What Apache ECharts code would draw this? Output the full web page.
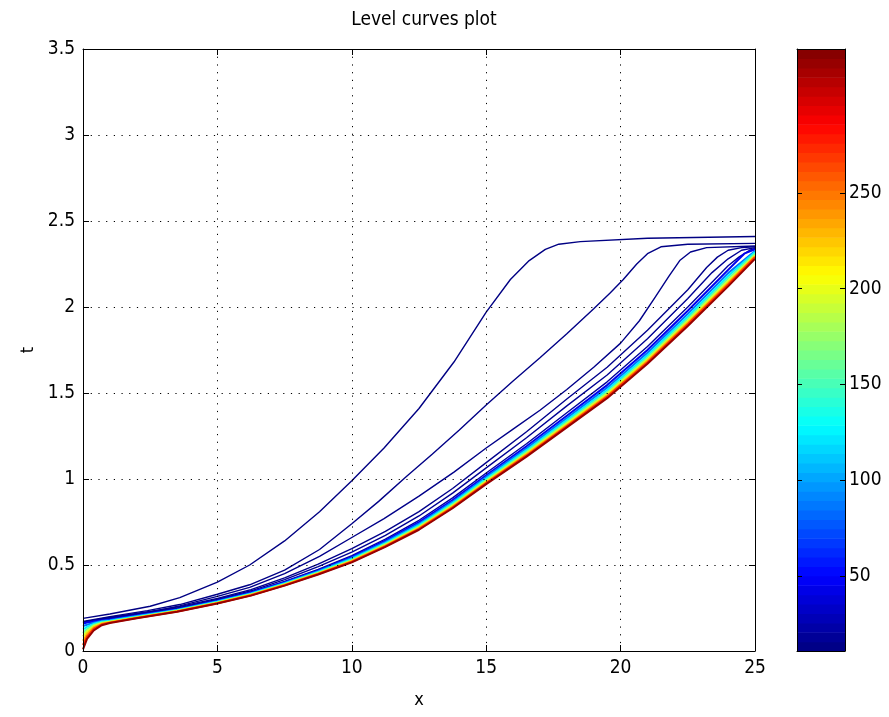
<!DOCTYPE html>
<html><head><meta charset="utf-8">
<script src="https://cdn.jsdelivr.net/npm/echarts@6/dist/echarts.min.js"></script>
<style>html,body{margin:0;padding:0;background:#fff}#c{width:889px;height:717px}</style>
</head><body><div id="c"></div>
<script>
// ---------- data ----------
const titleText = 'Level curves plot';
const xTicks = [0, 5, 10, 15, 20, 25];
const tTicks = [0, 0.5, 1, 1.5, 2, 2.5, 3, 3.5];
const colorbarTicks = [50, 100, 150, 200, 250];
const colorRange = [11, 325];
const levels = [12, 13, 14, 15, 17, 20, 45, 85, 125, 160, 195, 230, 270, 318];

const c1 = [[0,0.19],[1,0.215],[2.5,0.26],[3.6,0.31],[5,0.40],[6.2,0.50],[7.5,0.64],[8.8,0.81],[10,0.99],[11.2,1.18],[12.5,1.41],[13.8,1.68],[15,1.97],[15.9,2.16],[16.6,2.27],[17.2,2.335],[17.7,2.365],[18.5,2.38],[21,2.40],[25,2.41]];
const c2 = [[0,0.172],[1,0.2],[2.4,0.235],[3.6,0.27],[5,0.33],[6.2,0.385],[7.5,0.47],[8.8,0.59],[10,0.74],[11,0.87],[12,1.01],[13,1.145],[14,1.285],[15,1.43],[16,1.57],[17,1.705],[18,1.845],[19,1.99],[19.6,2.08],[20.1,2.16],[20.6,2.25],[21,2.31],[21.5,2.35],[22.5,2.365],[25,2.37]];
const c3 = [[0,0.168],[1,0.196],[2.5,0.227],[3.6,0.262],[5,0.318],[6.2,0.37],[7.5,0.45],[8.8,0.55],[10,0.66],[11.2,0.77],[12.5,0.90],[13.8,1.04],[15,1.18],[16,1.29],[17,1.40],[18,1.52],[19,1.65],[20,1.79],[20.7,1.92],[21.3,2.06],[21.8,2.18],[22.2,2.27],[22.6,2.32],[23.2,2.345],[25,2.355]];
const c4 = [[0,0.167],[1,0.194],[2,0.218],[3.5,0.255],[5,0.305],[6.25,0.357],[7.5,0.425],[8.75,0.505],[10,0.595],[11.25,0.695],[12.5,0.81],[13.75,0.945],[15,1.095],[16.5,1.275],[18,1.465],[19.5,1.65],[21,1.865],[22.5,2.1],[23.2,2.23],[23.6,2.29],[24,2.33],[24.5,2.345],[25,2.35]];
const c5 = [[0,0.165],[1,0.191],[2,0.214],[3.5,0.25],[5,0.30],[6.25,0.35],[7.5,0.415],[8.75,0.49],[10,0.575],[11.25,0.672],[12.5,0.785],[13.75,0.918],[15,1.065],[16.5,1.24],[18,1.425],[19.5,1.605],[21,1.815],[22.5,2.05],[23.4,2.2],[24,2.28],[24.5,2.33],[25,2.345]];
const c6 = [[0,0.163],[1,0.188],[2,0.21],[3.5,0.246],[5,0.296],[6.25,0.344],[7.5,0.405],[8.75,0.475],[10,0.555],[11.25,0.65],[12.5,0.76],[13.75,0.89],[15,1.035],[16.5,1.205],[18,1.385],[19.5,1.565],[21,1.77],[22.5,2.0],[24,2.24],[24.4,2.29],[24.8,2.33],[25,2.34]];
const b1 = [[0,0.16],[0.15,0.165],[0.4,0.172],[0.7,0.178],[1,0.183],[2,0.206],[3.5,0.242],[5,0.292],[6.25,0.34],[7.5,0.40],[8.75,0.469],[10,0.547],[11.25,0.641],[12.5,0.749],[13.75,0.878],[15,1.022],[16.5,1.19],[18,1.368],[19.5,1.546],[21,1.75],[22.5,1.978],[24,2.216],[24.6,2.31],[25,2.335]];
const b2 = [[0,0.145],[0.15,0.153],[0.4,0.165],[0.7,0.174],[1,0.179],[2,0.203],[3.5,0.24],[5,0.289],[6.25,0.336],[7.5,0.396],[8.75,0.464],[10,0.541],[11.25,0.634],[12.5,0.74],[13.75,0.868],[15,1.012],[16.5,1.178],[18,1.354],[19.5,1.531],[21,1.734],[22.5,1.96],[24,2.197],[25,2.325]];
const b3 = [[0,0.125],[0.15,0.14],[0.4,0.158],[0.7,0.17],[1,0.1755],[2,0.2],[3.5,0.237],[5,0.286],[6.25,0.333],[7.5,0.3925],[8.75,0.46],[10,0.535],[11.25,0.6275],[12.5,0.7325],[13.75,0.86],[15,1.0025],[16.5,1.1675],[18,1.3425],[19.5,1.5175],[21,1.72],[22.5,1.945],[24,2.18],[25,2.32]];
const b4 = [[0,0.105],[0.15,0.128],[0.4,0.152],[0.7,0.166],[1,0.172],[2,0.197],[3.5,0.235],[5,0.283],[6.25,0.33],[7.5,0.389],[8.75,0.456],[10,0.53],[11.25,0.622],[12.5,0.725],[13.75,0.852],[15,0.994],[16.5,1.158],[18,1.331],[19.5,1.505],[21,1.707],[22.5,1.931],[24,2.165],[25,2.31]];
const b5 = [[0,0.085],[0.15,0.115],[0.4,0.145],[0.7,0.162],[1,0.1695],[2,0.195],[3.5,0.233],[5,0.281],[6.25,0.328],[7.5,0.3865],[8.75,0.453],[10,0.525],[11.25,0.617],[12.5,0.719],[13.75,0.846],[15,0.987],[16.5,1.15],[18,1.322],[19.5,1.495],[21,1.696],[22.5,1.919],[24,2.151],[25,2.30]];
const b6 = [[0,0.06],[0.15,0.10],[0.4,0.138],[0.7,0.158],[1,0.167],[2,0.193],[3.5,0.231],[5,0.279],[6.25,0.326],[7.5,0.384],[8.75,0.45],[10,0.522],[11.25,0.613],[12.5,0.714],[13.75,0.84],[15,0.981],[16.5,1.143],[18,1.314],[19.5,1.486],[21,1.687],[22.5,1.909],[24,2.14],[25,2.295]];
const b7 = [[0,0.035],[0.15,0.085],[0.4,0.13],[0.7,0.155],[1,0.165],[2,0.192],[3.5,0.23],[5,0.278],[6.25,0.324],[7.5,0.382],[8.75,0.448],[10,0.519],[11.25,0.609],[12.5,0.71],[13.75,0.835],[15,0.976],[16.5,1.137],[18,1.308],[19.5,1.479],[21,1.679],[22.5,1.90],[24,2.131],[25,2.29]];
const b8 = [[0,0.01],[0.15,0.07],[0.4,0.12],[0.7,0.15],[1,0.163],[2,0.19],[3.5,0.228],[5,0.276],[6.25,0.322],[7.5,0.38],[8.75,0.445],[10,0.515],[11.25,0.605],[12.5,0.705],[13.75,0.83],[15,0.97],[16.5,1.13],[18,1.30],[19.5,1.47],[21,1.67],[22.5,1.89],[24,2.12],[25,2.28]];

const curves = [c1, c2, c3, c4, c5, c6, b1, b2, b3, b4, b5, b6, b7, b8];

// ---------- style helpers ----------
function jet(f) {
  const cl = v => Math.max(0, Math.min(1, v));
  const r = cl(1.5 - Math.abs(4 * f - 3));
  const g = cl(1.5 - Math.abs(4 * f - 2));
  const b = cl(1.5 - Math.abs(4 * f - 1));
  return 'rgb(' + Math.round(r * 255) + ',' + Math.round(g * 255) + ',' + Math.round(b * 255) + ')';
}
function levelColor(v) { return jet((v - colorRange[0]) / (colorRange[1] - colorRange[0])); }

const FONT = "'Liberation Sans Narrow', 'DejaVu Sans Condensed', 'Liberation Sans', sans-serif";
const NSTEPS = 64;
const cbSteps = [];
for (let i = 0; i < NSTEPS; i++) {
  const lo = colorRange[0] + (colorRange[1] - colorRange[0]) * i / NSTEPS;
  const hi = colorRange[0] + (colorRange[1] - colorRange[0]) * (i + 1) / NSTEPS;
  cbSteps.push([lo, hi, (i + 0.5) / NSTEPS]);
}

const dotted = { color: '#000', width: 1, type: [1.2, 6.5] };

const series = curves.map((c, i) => ({
  type: 'line', xAxisIndex: 0, yAxisIndex: 0, data: c,
  showSymbol: false, symbol: 'none', silent: true, smooth: false,
  lineStyle: { color: levelColor(levels[i]), width: i < 6 ? 1.4 : 2 },
  z: 3 + i
}));
series.push({
  type: 'custom', xAxisIndex: 2, yAxisIndex: 2, data: cbSteps, silent: true,
  renderItem: function (params, api) {
    const p0 = api.coord([0, api.value(0)]);
    const p1 = api.coord([1, api.value(1)]);
    return { type: 'rect', shape: { x: p0[0], y: p1[1], width: p1[0] - p0[0], height: p0[1] - p1[1] + 0.6 },
      style: { fill: jet(api.value(2)) } };
  },
  encode: { x: -1, y: [0, 1] }, z: 2
});

const option = {
  animation: false,
  backgroundColor: '#fff',
  title: { text: titleText, left: 419, top: 6, textAlign: 'center',
    textStyle: { fontFamily: FONT, fontSize: 19, fontWeight: 'normal', color: '#000' } },
  grid: [
    { left: 83, top: 49, width: 672, height: 602, show: false },
    { left: 797, top: 49, width: 48, height: 602, show: false }
  ],
  xAxis: [
    { gridIndex: 0, type: 'value', min: 0, max: 25, interval: 5, position: 'bottom', z: 20,
      axisLine: { show: true, onZero: false, lineStyle: { color: '#000', width: 1 } },
      axisTick: { show: true, inside: true, length: 6, lineStyle: { color: '#000' } },
      axisLabel: { show: true, color: '#000', fontFamily: FONT, fontSize: 19, margin: 8 },
      splitLine: { show: true, lineStyle: dotted },
      name: 'x', nameLocation: 'middle', nameGap: 40,
      nameTextStyle: { color: '#000', fontFamily: FONT, fontSize: 18 } },
    { gridIndex: 0, type: 'value', min: 0, max: 25, interval: 5, position: 'top', z: 20,
      axisLine: { show: true, onZero: false, lineStyle: { color: '#000', width: 1 } },
      axisTick: { show: true, inside: true, length: 6, lineStyle: { color: '#000' } },
      axisLabel: { show: false }, splitLine: { show: false } },
    { gridIndex: 1, type: 'value', min: 0, max: 1, position: 'bottom', z: 20,
      axisLine: { show: true, onZero: false, lineStyle: { color: '#000', width: 1 } },
      axisTick: { show: false }, axisLabel: { show: false }, splitLine: { show: false } },
    { gridIndex: 1, type: 'value', min: 0, max: 1, position: 'top', z: 20,
      axisLine: { show: true, onZero: false, lineStyle: { color: '#000', width: 1 } },
      axisTick: { show: false }, axisLabel: { show: false }, splitLine: { show: false } }
  ],
  yAxis: [
    { gridIndex: 0, type: 'value', min: 0, max: 3.5, interval: 0.5, position: 'left', z: 20,
      axisLine: { show: true, onZero: false, lineStyle: { color: '#000', width: 1 } },
      axisTick: { show: true, inside: true, length: 6, lineStyle: { color: '#000' } },
      axisLabel: { show: true, color: '#000', fontFamily: FONT, fontSize: 19, margin: 8 },
      splitLine: { show: true, lineStyle: dotted },
      name: 't', nameLocation: 'middle', nameGap: 43, nameRotate: 90,
      nameTextStyle: { color: '#000', fontFamily: FONT, fontSize: 18 } },
    { gridIndex: 0, type: 'value', min: 0, max: 3.5, interval: 0.5, position: 'right', z: 20,
      axisLine: { show: true, onZero: false, lineStyle: { color: '#000', width: 1 } },
      axisTick: { show: true, inside: true, length: 6, lineStyle: { color: '#000' } },
      axisLabel: { show: false }, splitLine: { show: false } },
    { gridIndex: 1, type: 'value', min: colorRange[0], max: colorRange[1], position: 'right', z: 20,
      axisLine: { show: true, onZero: false, lineStyle: { color: '#000', width: 1 } },
      axisTick: { show: true, inside: true, length: 5, customValues: colorbarTicks, lineStyle: { color: '#000' } },
      axisLabel: { show: true, color: '#000', fontFamily: FONT, fontSize: 19, margin: 4, customValues: colorbarTicks },
      splitLine: { show: false } },
    { gridIndex: 1, type: 'value', min: colorRange[0], max: colorRange[1], position: 'left', z: 20,
      axisLine: { show: true, onZero: false, lineStyle: { color: '#000', width: 1 } },
      axisTick: { show: true, inside: true, length: 5, customValues: colorbarTicks, lineStyle: { color: '#000' } },
      axisLabel: { show: false }, splitLine: { show: false } }
  ],
  series: series
};

const chart = echarts.init(document.getElementById('c'), null, { renderer: 'canvas' });
chart.setOption(option);
</script>
</body></html>
